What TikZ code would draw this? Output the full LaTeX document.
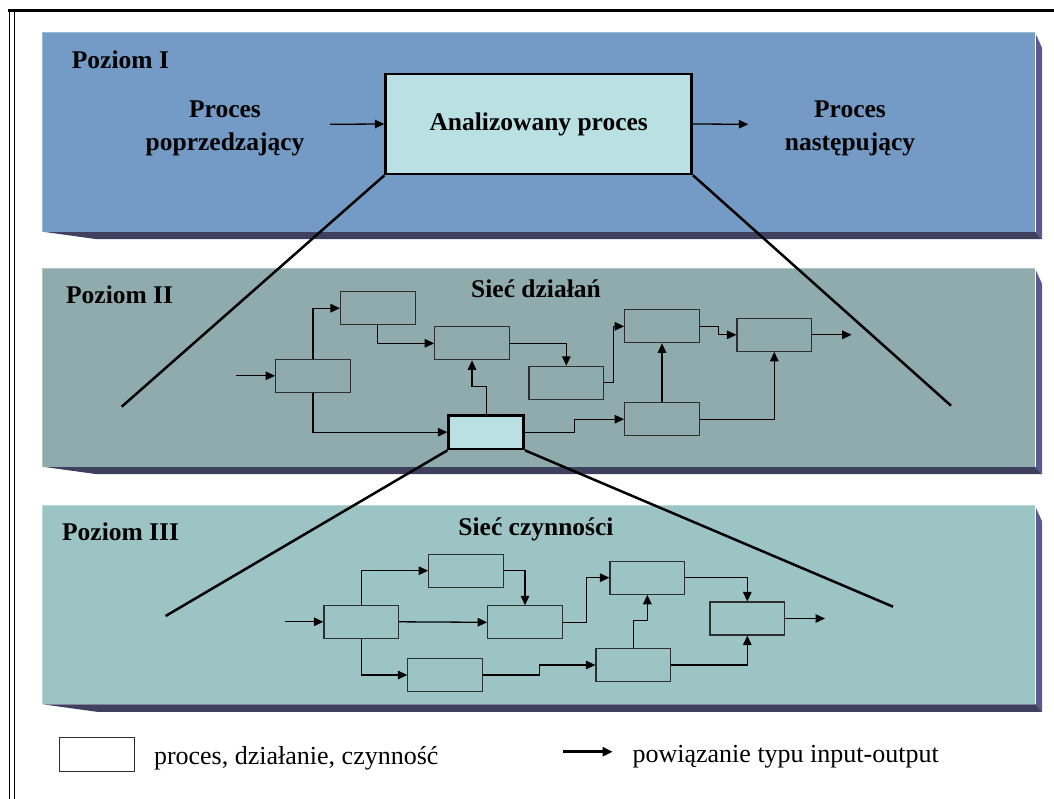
\documentclass[tikz,border=0pt]{standalone}
\usepackage{fontspec}
\setmainfont{Liberation Serif}
\usetikzlibrary{arrows.meta}

\definecolor{lvlone}{HTML}{749BC5}
\definecolor{lvltwo}{HTML}{8FABAD}
\definecolor{lvlthree}{HTML}{9DC4C5}
\definecolor{hilite}{HTML}{B9E0E2}
\definecolor{shadebottom}{HTML}{3F3F5F}
\definecolor{shaderight}{HTML}{5A5A8E}
\definecolor{boxline}{HTML}{2E2E2E}

% one level band with its bevelled drop shadow: #1 top, #2 bottom, #3 fill
\newcommand{\levelband}[3]{%
  \fill[shaderight] (1035,#1) -- (1042,#1+15.5) -- (1042,#2+7.5) -- (1035,#2) -- cycle;
  \fill[shadebottom] (42.5,#2) -- (97,#2+7.5) -- (1042,#2+7.5) -- (1035,#2) -- cycle;
  \fill[#3] (42.5,#1) rectangle (1035,#2);
  \draw[#3!70!white, line width=0.8pt] (42.5,#2) -- (42.5,#1) -- (1035,#1);
  \draw[white, line width=1pt] (1035,#1) -- (1035,#2);
}

\begin{document}
\begin{tikzpicture}[x=1pt,y=-1pt,
  arr/.style={line width=1.3pt, -{Triangle[length=9.5pt,width=8.5pt]}},
  act/.style={draw=boxline, line width=1.1pt, minimum width=74.6pt,
              minimum height=33pt, inner sep=0pt},
  focus/.style={draw=black, line width=2.6pt, fill=hilite, minimum width=75pt,
              minimum height=33.7pt, inner sep=0pt},
  funnel/.style={line width=2.5pt},
  lvl/.style={font=\fontsize{25.5}{30}\selectfont\bfseries, inner sep=0pt},
  twoline/.style={font=\fontsize{25.5}{33.4}\selectfont\bfseries, inner sep=0pt, align=center},
  legendtext/.style={font=\fontsize{26}{30}\selectfont, inner sep=0pt}
]
\useasboundingbox (0,0) rectangle (1054,799);

% outer frame
\draw[line width=3pt] (8,11) -- (1054,11);
\draw[line width=1.6pt] (9.3,9.5) -- (9.3,799);
\draw[line width=1.6pt] (14.3,12.5) -- (14.3,799);

% level bands
\levelband{32.3}{231.7}{lvlone}
\levelband{268.3}{466.7}{lvltwo}
\levelband{505.7}{704.3}{lvlthree}

% ---------- level I ----------
\node[lvl, anchor=base west] (lab1) at (71.7,68.3) {Poziom I};
\node[twoline] (prev) at (225,128.5) {Proces\\poprzedzający};
\node[twoline] (next) at (850,128.5) {Proces\\następujący};
\node[draw=black, line width=2.7pt, fill=hilite, minimum width=306pt,
      minimum height=100pt, inner sep=0pt, lvl] (main) at (538.7,124) {Analizowany proces};
\coordinate (inMain) at (330,124.3);
\coordinate (outMain) at (748.3,124.3);
\draw[arr] (inMain) -- (main.west);
\draw[arr] (main.east) -- (outMain);

% ---------- level II ----------
\node[lvl, anchor=base west] (lab2) at (65.9,303.3) {Poziom II};
\node[lvl, anchor=base] (net2) at (536,297.3) {Sieć działań};

\node[act] (A) at (313,375.8) {};
\node[act] (B) at (377.8,308.2) {};
\node[act] (C) at (472,343.3) {};
\node[focus] (D) at (486.2,432.2) {};
\node[act] (E) at (566.3,382.8) {};
\node[act] (F) at (662,326.3) {};
\node[act] (G) at (774.3,334.8) {};
\node[act] (H) at (662,419.2) {};

\coordinate (inA) at (236,375.8);
\coordinate (outG) at (851.7,334.8);
\draw[arr] (inA) -- (A.west);
\draw[arr] (A.north) |- (B.west);
\draw[arr] (B.south) |- (C.west);
\draw[arr] (C.east) -| (E.north);
\draw[arr] (E.east) -- ++(9.6,0) |- (F.west);
\draw[arr] (F.east) -- ++(18.4,0) |- (G.west);
\draw[arr] (G.east) -- (outG);
\draw[arr] (A.south) |- (D.west);
\draw[arr] (D.north) -- ++(0,-27.6) -| (C.south);
\draw[arr] (D.east) -- ++(49.6,0) |- (H.west);
\draw[arr] (H.north) -- (F.south);
\draw[arr] (H.east) -| (G.south);

% ---------- level III ----------
\node[lvl, anchor=base west] (lab3) at (61.9,540) {Poziom III};
\node[lvl, anchor=base] (net3) at (536,535) {Sieć czynności};

\node[act] (P) at (361.3,621.8) {};
\node[act] (Q) at (466,570.7) {};
\node[act] (R) at (525,622.3) {};
\node[act] (S) at (445.2,675) {};
\node[act] (T) at (647.3,577.7) {};
\node[act] (U) at (747.3,618.5) {};
\node[act] (V) at (633.3,665) {};

\coordinate (inP) at (285,621.8);
\coordinate (outU) at (825,618.5);
\draw[arr] (inP) -- (P.west);
\draw[arr] (P.north) |- (Q.west);
\draw[arr] (P.east) -- (R.west);
\draw[arr] (Q.east) -| (R.north);
\draw[arr] (P.south) |- (S.west);
\draw[arr] (S.east) -- ++(56.6,0) |- (V.west);
\draw[arr] (R.east) -- ++(23.4,0) |- (T.west);
\draw[arr] (V.north) -- ++(0,-27.3) -| (T.south);
\draw[arr] (T.east) -| (U.north);
\draw[arr] (V.east) -| (U.south);
\draw[arr] (U.east) -- (outU);

% ---------- zoom-in lines between levels ----------
\coordinate (zoomL1) at (121.7,406.7);
\coordinate (zoomR1) at (951,405.7);
\coordinate (zoomL2) at (165.6,616);
\coordinate (zoomR2) at (893,606.7);
\draw[funnel] (main.south west) -- (zoomL1);
\draw[funnel] (main.south east) -- (zoomR1);
\draw[funnel] (D.south west) -- (zoomL2);
\draw[funnel] (D.south east) -- (zoomR2);

% ---------- legend ----------
\node[draw=boxline, fill=white, line width=1pt, minimum width=74.4pt,
      minimum height=33.7pt, inner sep=0pt] (legbox) at (97,754.2) {};
\node[legendtext, anchor=base west] (legboxtext) at (153.8,764) {proces, działanie, czynność};
\coordinate (legA) at (562.6,751.7);
\coordinate (legB) at (612.6,751.7);
\draw[line width=2.6pt, -{Triangle[length=10pt,width=9pt]}] (legA) -- (legB);
\node[legendtext, anchor=base west] (legarrtext) at (632.4,762) {powiązanie typu input-output};
\end{tikzpicture}
\end{document}
